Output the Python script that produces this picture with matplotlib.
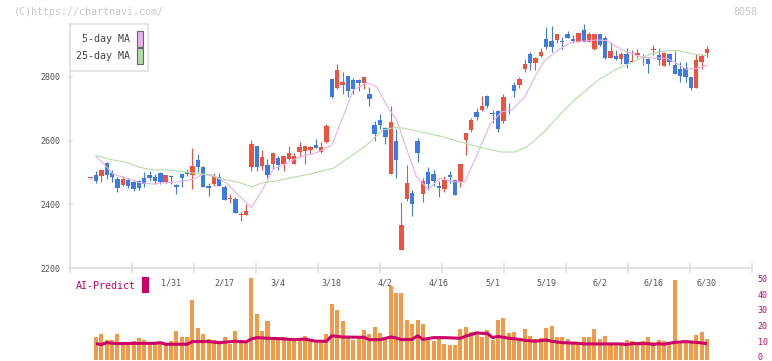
import numpy as np
import matplotlib
matplotlib.use("Agg")
import matplotlib.pyplot as plt
from matplotlib.patches import Rectangle

# ---- data (8058, daily) ----
# candle index -1 .. 114 ; index 14 = 1/31 ... index 114 = 6/30
opens = [2482,
         2492, 2490, 2530, 2498, 2480, 2461, 2476, 2471, 2473, 2483,
         2492, 2487, 2498, 2471, 2488, 2460, 2495, 2500, 2493, 2539,
         2517, 2457, 2465, 2486, 2456, 2416, 2417, 2367, 2368, 2518,
         2583, 2520, 2523, 2528, 2545, 2528, 2541, 2528, 2564, 2568,
         2570, 2586, 2564, 2595, 2793, 2766, 2775, 2802, 2790, 2790,
         2780, 2746, 2649, 2664, 2639, 2495, 2598, 2257, 2417, 2436,
         2598, 2433, 2501, 2495, 2458, 2448, 2491, 2476, 2471, 2603,
         2633, 2689, 2696, 2739, 2685, 2692, 2662, 2712, 2774, 2774,
         2824, 2871, 2843, 2865, 2918, 2911, 2915, 2910, 2934, 2918,
         2909, 2946, 2909, 2887, 2934, 2921, 2860, 2865, 2855, 2871,
         2846, 2868, 2851, 2855, 2883, 2868, 2834, 2871, 2836, 2824,
         2827, 2799, 2764, 2846, 2874]
closes = [2483,
          2474, 2508, 2492, 2487, 2452, 2480, 2459, 2448, 2451, 2463,
          2484, 2474, 2470, 2492, 2486, 2453, 2482, 2494, 2520, 2518,
          2456, 2451, 2489, 2459, 2415, 2420, 2374, 2371, 2379, 2589,
          2518, 2548, 2493, 2561, 2524, 2551, 2560, 2552, 2579, 2583,
          2579, 2578, 2579, 2646, 2736, 2821, 2783, 2755, 2761, 2780,
          2799, 2730, 2620, 2649, 2611, 2658, 2539, 2335, 2467, 2401,
          2561, 2473, 2464, 2473, 2451, 2476, 2485, 2429, 2526, 2625,
          2664, 2674, 2708, 2708, 2683, 2636, 2736, 2710, 2755, 2793,
          2840, 2843, 2858, 2877, 2893, 2893, 2934, 2908, 2922, 2912,
          2937, 2910, 2934, 2934, 2899, 2858, 2880, 2855, 2871, 2840,
          2848, 2874, 2853, 2841, 2885, 2852, 2874, 2847, 2809, 2802,
          2799, 2764, 2852, 2865, 2887]
highs = [2483,
         2504, 2511, 2533, 2507, 2486, 2489, 2484, 2476, 2478, 2501,
         2504, 2494, 2500, 2492, 2492, 2464, 2499, 2511, 2577, 2558,
         2519, 2467, 2497, 2497, 2462, 2433, 2424, 2376, 2401, 2602,
         2583, 2570, 2542, 2564, 2551, 2551, 2583, 2560, 2595, 2583,
         2584, 2605, 2595, 2652, 2793, 2840, 2815, 2802, 2796, 2793,
         2799, 2768, 2661, 2683, 2642, 2708, 2636, 2408, 2523, 2445,
         2608, 2483, 2517, 2508, 2473, 2489, 2505, 2476, 2526, 2625,
         2671, 2701, 2739, 2743, 2696, 2696, 2746, 2719, 2783, 2800,
         2855, 2876, 2861, 2890, 2955, 2959, 2934, 2924, 2943, 2930,
         2937, 2965, 2940, 2934, 2934, 2927, 2909, 2883, 2877, 2890,
         2883, 2887, 2871, 2858, 2899, 2890, 2877, 2874, 2880, 2846,
         2846, 2799, 2871, 2871, 2896]
lows = [2481,
        2468, 2471, 2481, 2470, 2439, 2458, 2452, 2443, 2445, 2456,
        2474, 2463, 2464, 2466, 2465, 2432, 2456, 2488, 2449, 2502,
        2454, 2427, 2458, 2458, 2415, 2405, 2372, 2349, 2368, 2506,
        2506, 2508, 2482, 2510, 2508, 2506, 2539, 2528, 2548, 2528,
        2557, 2578, 2562, 2592, 2733, 2762, 2745, 2736, 2746, 2755,
        2761, 2708, 2599, 2636, 2589, 2495, 2483, 2257, 2411, 2364,
        2533, 2408, 2445, 2458, 2423, 2439, 2466, 2429, 2455, 2555,
        2628, 2664, 2692, 2702, 2656, 2628, 2656, 2683, 2736, 2764,
        2815, 2822, 2822, 2861, 2887, 2877, 2905, 2887, 2922, 2905,
        2909, 2910, 2909, 2884, 2896, 2855, 2860, 2852, 2840, 2827,
        2846, 2858, 2836, 2810, 2868, 2836, 2834, 2836, 2809, 2784,
        2784, 2758, 2764, 2824, 2861]

# moving averages (index, price)
ma5_x = [0, 1.3, 3.2, 5.7, 8.2, 10.6, 13.2, 15.7, 18.1, 20, 21.8, 24.4, 26.9, 29,
         31.2, 33, 35.6, 38, 41.2, 44, 46.1, 48, 50.5, 52.4, 54.2, 56.1, 58, 59.8,
         62, 64.2, 66.7, 68.8, 70.4, 72, 73.5, 75.7, 77.6, 80, 81.9, 83.8, 86.2,
         88.4, 90.3, 93.4, 95.3, 97.1, 99, 101.5, 103.9, 106.5, 108.3, 110.2, 112, 114]
ma5_y = [2551, 2529, 2495, 2482, 2468, 2464, 2468, 2471, 2479, 2494, 2492, 2466, 2424, 2391,
         2450, 2510, 2529, 2549, 2562, 2586, 2675, 2758, 2781, 2768, 2711, 2664, 2570, 2487,
         2447, 2482, 2471, 2470, 2529, 2591, 2650, 2690, 2696, 2737, 2800, 2852, 2883,
         2906, 2910, 2915, 2913, 2894, 2878, 2863, 2858, 2858, 2842, 2823, 2826, 2836]
ma25_x = [0, 2.6, 5.7, 8.2, 10.6, 13.2, 16.2, 20.7, 24.4, 26.9, 29, 31.2, 33.7, 36.8,
          39.9, 44.2, 47.4, 50.5, 53.5, 55.8, 57.3, 60.4, 64.7, 69.2, 72, 75.7, 78.2,
          80.6, 83.8, 86.2, 89.4, 93.7, 96.8, 99.9, 103, 106.2, 108.6, 111.2, 113.8]
ma25_y = [2553, 2541, 2532, 2516, 2508, 2508, 2502, 2493, 2476, 2468, 2455, 2468, 2474, 2485,
          2495, 2513, 2549, 2586, 2633, 2641, 2639, 2628, 2612, 2590, 2577, 2564, 2564,
          2583, 2630, 2675, 2729, 2789, 2821, 2844, 2868, 2881, 2882, 2872, 2866]

# volume (index 0 .. 114)
volume = [12.4, 14.3, 10.5, 10.5, 14.3, 9.2, 9.2, 9.9, 11.8, 10.5,
          8.0, 8.0, 8.6, 8.0, 9.9, 16.2, 12.4, 12.4, 36.3, 18.1,
          14.3, 11.1, 10.5, 8.0, 12.4, 8.0, 16.2, 8.6, 8.6, 50.2,
          27.5, 16.2, 22.5, 11.8, 11.8, 12.4, 11.8, 10.5, 10.5, 13.0,
          10.5, 8.6, 8.6, 14.3, 33.8, 30.0, 23.1, 13.0, 10.5, 13.0,
          16.8, 14.3, 18.7, 14.9, 11.8, 45.2, 40.8, 40.8, 23.7, 20.6,
          23.7, 21.2, 11.8, 9.9, 13.0, 8.0, 7.4, 7.4, 17.4, 18.7,
          15.5, 14.3, 12.4, 16.8, 10.5, 23.7, 24.4, 14.9, 15.5, 11.1,
          17.4, 13.0, 11.1, 11.8, 18.1, 19.3, 12.4, 12.4, 11.1, 8.6,
          8.6, 12.4, 12.4, 17.4, 11.1, 13.0, 8.6, 8.6, 8.0, 10.5,
          9.9, 9.2, 9.9, 12.4, 9.2, 10.5, 9.9, 9.2, 48.9, 8.6,
          9.9, 8.6, 13.7, 15.5, 11.1]

# AI-Predict line (index, value)
ai_x = [0, 1, 2, 4, 11, 12, 13, 17, 18, 21, 23, 26, 28, 29, 30, 32, 34, 37, 39, 41, 43, 44,
        46, 50, 51, 53, 55, 56, 57, 59, 60, 61, 63, 65, 68, 69, 70, 71, 72, 73, 74, 75,
        77, 78, 80, 82, 83, 84, 85, 87, 90, 91, 98, 99, 100, 103, 104, 105, 106, 108,
        110, 112, 114]
ai_y = [8.4, 7.8, 9.0, 8.4, 8.6, 9.0, 8.0, 8.0, 9.7, 9.7, 9.0, 9.9, 9.5, 11.3, 12.2, 11.8,
        11.6, 10.9, 11.3, 9.9, 9.9, 13.4, 12.6, 12.4, 10.9, 10.9, 12.6, 12.0, 10.9, 11.1,
        13.4, 11.1, 12.2, 12.2, 11.8, 13.2, 14.1, 15.3, 14.9, 14.9, 12.2, 13.0, 11.8, 11.6,
        10.5, 9.9, 10.3, 10.7, 9.9, 9.0, 8.6, 8.2, 8.2, 7.8, 8.4, 8.4, 7.8, 8.4, 8.0, 9.2,
        9.7, 9.2, 8.4]

date_idx = [14, 24, 34, 44, 54, 64, 74, 84, 94, 104, 114]
date_lbl = ["1/31", "2/17", "3/4", "3/18", "4/2", "4/16", "5/1", "5/19", "6/2", "6/16", "6/30"]

# ---- figure ----
W, H = 772, 361
plt.rcParams['font.family'] = ['DejaVu Sans Mono']
fig = plt.figure(figsize=(W / 100, H / 100), dpi=100)


def fx(px):
    return px / W


def fy(py):
    return 1 - py / H


RED = '#f0503c'
BLUE = '#3b7be8'
GRID = '#dddddd'
AI = '#cc0066'
XMIN, XMAX = -4.85, 122.4

# main price panel: 2200 at y=268.3 px, axis top at y=24 px
ax = fig.add_axes([fx(70), fy(268.3), fx(752) - fx(70), fy(24) - fy(268.3)])
ax.set_xlim(XMIN, XMAX)
ax.set_ylim(2200, 2200 + (268.3 - 24) * 3.131)
for s in ['top', 'right']:
    ax.spines[s].set_visible(False)
for s in ['left', 'bottom']:
    ax.spines[s].set_color(GRID)
    ax.spines[s].set_linewidth(1.2)
ax.set_yticks([2200, 2400, 2600, 2800])
ax.tick_params(axis='y', direction='inout', length=3.6, width=1.1, color=GRID,
               labelsize=6, labelcolor='#555555', pad=5)
ax.set_xticks(np.linspace(XMIN, XMAX, 12))
ax.set_xticklabels([])
ax.tick_params(axis='x', direction='inout', length=6.5, width=1.1, color=GRID)

idx = np.arange(-1, len(opens) - 1)
o = np.array(opens, float)
c = np.array(closes, float)
colors = [RED if cc >= oo else BLUE for oo, cc in zip(o, c)]
ax.vlines(idx, lows, highs, colors=colors, linewidth=0.8, zorder=2, clip_on=False)
ax.bar(idx, np.maximum(np.abs(c - o), 2.5), bottom=np.minimum(o, c), width=0.82,
       color=colors, linewidth=0, zorder=3, clip_on=False)
ax.plot(ma5_x, ma5_y, color='#e9b0ec', linewidth=0.8, zorder=4)
ax.plot(ma25_x, ma25_y, color='#b5dca8', linewidth=0.8, zorder=4)

# volume panel: 0 at y=356.8 px, 50 at y=278.3 px
vax = fig.add_axes([fx(70), fy(359.5), fx(752) - fx(70), fy(278.3) - fy(359.5)])
vax.set_xlim(XMIN, XMAX)
v0 = -(359.5 - 356.8) / ((356.8 - 278.3) / 50)
vax.set_ylim(v0, 50)
vax.patch.set_alpha(0)
for s in vax.spines.values():
    s.set_visible(False)
vax.set_xticks([])
vax.yaxis.tick_right()
vax.set_yticks([0, 10, 20, 30, 40, 50])
vax.tick_params(axis='y', length=0, labelsize=6, labelcolor=AI, pad=4)
vax.bar(np.arange(len(volume)), np.array(volume) - v0, bottom=v0, width=0.75,
        color='#f2994a', linewidth=0)
vax.plot(ai_x, ai_y, color=AI, linewidth=2.2, solid_capstyle='butt')
for i, lb in zip(date_idx, date_lbl):
    vax.text(i, 47, lb, ha='center', va='center', fontsize=6, color='#555555')

# header texts
fig.text(fx(14), fy(12), '(C)https://chartnavi.com/', fontsize=7.2, color='#c8c8c8',
         ha='left', va='center')
fig.text(fx(757), fy(12), '8058', fontsize=7.2, color='#c8c8c8', ha='right', va='center')

# legend box
fig.patches.append(Rectangle((fx(70.3), fy(71.3)), fx(78), 47 / H, transform=fig.transFigure,
                             facecolor='white', edgecolor='#e0e0e0', linewidth=1.1, zorder=5))
fig.patches.append(Rectangle((fx(137), fy(47)), fx(5.7), 15.5 / H, transform=fig.transFigure,
                             facecolor='#e9b0ec', edgecolor='#666666', linewidth=0.8, zorder=6))
fig.patches.append(Rectangle((fx(137), fy(63.5)), fx(5.7), 15.5 / H, transform=fig.transFigure,
                             facecolor='#b5dca8', edgecolor='#666666', linewidth=0.8, zorder=6))
fig.text(fx(130), fy(39), '5-day MA', fontsize=7.2, color='#444444', ha='right', va='center', zorder=7)
fig.text(fx(130), fy(56), '25-day MA', fontsize=7.2, color='#444444', ha='right', va='center', zorder=7)

# AI-Predict label
fig.text(fx(76), fy(286), 'AI-Predict', fontsize=7.2, color=AI, ha='left', va='center')
fig.patches.append(Rectangle((fx(142), fy(293)), fx(7), 16 / H, transform=fig.transFigure,
                             facecolor=AI, edgecolor='none'))

fig.savefig('out.png', dpi=100)
